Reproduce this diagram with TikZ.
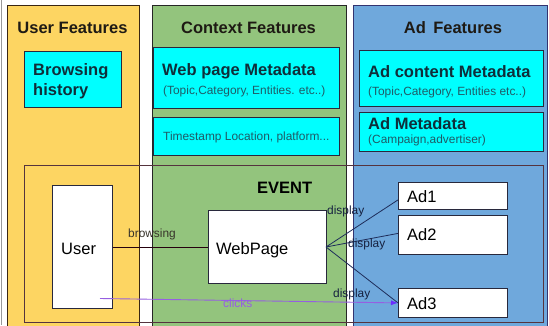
\documentclass[tikz,border=0pt]{standalone}
\usepackage{fontspec}
\setmainfont{Liberation Sans}
\usetikzlibrary{arrows.meta}

\definecolor{userpanel}{RGB}{253,213,98}
\definecolor{ctxpanel}{RGB}{147,196,125}
\definecolor{adpanel}{RGB}{111,168,220}
\definecolor{metabox}{RGB}{0,255,255}
\definecolor{titleink}{RGB}{30,26,20}
\definecolor{metaink}{RGB}{15,46,58}
\definecolor{noteink}{RGB}{31,91,102}
\definecolor{edgeink}{RGB}{40,40,60}
\definecolor{linkink}{RGB}{30,45,90}
\definecolor{clickink}{RGB}{150,95,225}
\definecolor{clicktip}{RGB}{105,45,255}

\tikzset{
  panel/.style={line width=0.9pt},
  cbox/.style={draw=edgeink, fill=metabox, line width=0.8pt, inner sep=0, anchor=north west},
  wbox/.style={draw=edgeink, fill=white, line width=0.8pt, inner sep=0, anchor=north west},
  txt/.style={inner sep=0, anchor=base west},
  big/.style={font=\fontsize{16.5}{20}\selectfont},
  bigb/.style={font=\fontsize{16.5}{20}\selectfont\bfseries},
  small/.style={font=\fontsize{11.9}{14}\selectfont},
  link/.style={draw=linkink, line width=0.8pt},
}

\begin{document}
\begin{tikzpicture}[x=1pt,y=-1pt]
\useasboundingbox (0,0) rectangle (549,325);
\fill[white] (0,0) rectangle (549,325);
\draw[gray!80, line width=1.2pt] (1.5,0) -- (1.5,325);

% feature columns
\filldraw[panel, fill=userpanel, draw=black!70!brown] (7,5) rectangle (139,330);
\filldraw[panel, fill=ctxpanel, draw=black!85] (152,5) rectangle (346,330);
\filldraw[panel, fill=adpanel, draw=black!60!blue!60!gray] (353,5) rectangle (547,330);

% column titles
\node[bigb, text=titleink, anchor=base] (tuser) at (72.5,33) {User Features};
\node[bigb, text=titleink, anchor=base] (tctx) at (248.5,33) {Context Features};
\node[bigb, text=titleink, anchor=base] (tad) at (453,33) {Ad\hspace{0.45em}Features};

% metadata boxes
\node[cbox, minimum width=97, minimum height=56] (hist) at (24,51) {};
\node[txt, bigb, text=metaink] (hist1) at (33,75) {Browsing};
\node[txt, bigb, text=metaink] (hist2) at (33,95) {history};

\node[cbox, minimum width=186, minimum height=61] (wpm) at (153,47) {};
\node[txt, bigb, text=metaink] (wpm1) at (162,75) {Web page Metadata};
\node[txt, small, text=noteink] (wpm2) at (163,94) {(Topic,Category, Entities. etc..)};

\node[cbox, minimum width=186, minimum height=38] (ts) at (153,117) {};
\node[txt, small, text=noteink] (ts1) at (163,140) {Timestamp Location, platform...};

\node[cbox, minimum width=184, minimum height=56] (acm) at (359,50) {};
\node[txt, bigb, text=metaink] (acm1) at (368,77) {Ad content Metadata};
\node[txt, small, text=noteink] (acm2) at (368,95) {(Topic,Category, Entities etc..)};

\node[cbox, minimum width=184, minimum height=39] (am) at (359,112) {};
\node[txt, bigb, text=metaink] (am1) at (368,129) {Ad Metadata};
\node[txt, small, text=noteink] (am2) at (368,143) {(Campaign,advertiser)};

% event frame
\draw[draw=black!70!purple!60!gray, line width=0.9pt] (24,165) rectangle (543,322);
\node[txt, bigb, text=black] (event) at (257,193) {EVENT};

% event entities
\node[wbox, minimum width=60, minimum height=123] (user) at (52,185) {};
\node[txt, big] (usert) at (61,254) {User};
\node[wbox, minimum width=118, minimum height=73] (web) at (208,210) {};
\node[txt, big] (webt) at (216,254) {WebPage};

\node[wbox, minimum width=109, minimum height=27] (ad1) at (398,182) {};
\node[txt, big] at (407,202) {Ad1};
\node[wbox, minimum width=109, minimum height=39] (ad2) at (398,215) {};
\node[txt, big] at (407,240) {Ad2};
\node[wbox, minimum width=109, minimum height=29] (ad3) at (398,288) {};
\node[txt, big] at (407,309) {Ad3};

% relations
\draw[draw=black!80!purple, line width=0.8pt] (user.east) -- (web.west |- user.east);
\node[txt, small, text=black!80!olive] (lbrowse) at (128,237) {browsing};

\coordinate (wout) at (326,247);
\draw[link] (wout) -- ([yshift=-4pt]ad1.west);
\draw[link] (wout) -- ([yshift=1.5pt]ad2.west);
\draw[link] (wout) -- (ad3.west);
\node[txt, small, text=linkink!70!black] (ld1) at (327,214) {display};
\node[txt, small, text=linkink!70!black] (ld2) at (348,247) {display};
\node[txt, small, text=linkink!70!black] (ld3) at (333,297) {display};

\coordinate (cstart) at (100,298.5);
\draw[draw=clickink, line width=0.9pt, -{Latex[length=7pt,width=5pt,color=clicktip]}] (cstart) -- (ad3.west);
\node[txt, small, text=clickink] (lclick) at (223,307) {clicks};
\end{tikzpicture}
\end{document}
